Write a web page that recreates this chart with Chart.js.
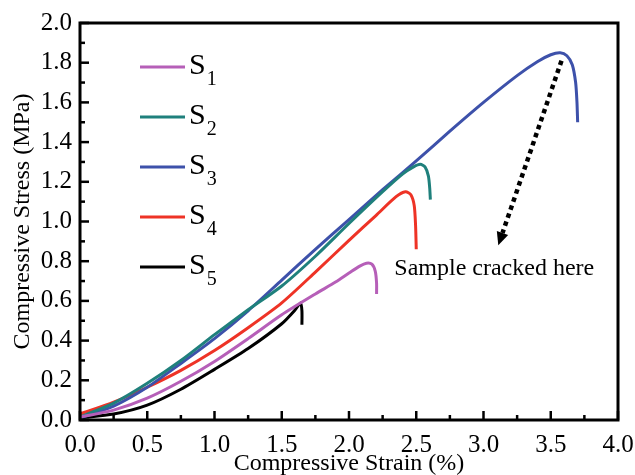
<!DOCTYPE html>
<html>
<head>
<meta charset="utf-8">
<script src="https://cdn.jsdelivr.net/npm/chart.js@4/dist/chart.umd.min.js"></script>
<style>
html,body{margin:0;padding:0;background:#fff;}
#wrap{width:635px;height:475px;}
</style>
</head>
<body>
<div id="wrap"><canvas id="c" width="635" height="475"></canvas></div>
<script>
// valeurs (déformation %, contrainte MPa)
const s1Strain = [0, 0.25, 0.5, 0.75, 1.0, 1.25, 1.5, 1.75, 1.9, 2.0, 2.08, 2.13, 2.17, 2.195, 2.205, 2.205];
const s1Stress = [0.015, 0.05, 0.11, 0.195, 0.295, 0.41, 0.53, 0.635, 0.695, 0.74, 0.775, 0.79, 0.785, 0.75, 0.69, 0.635];

const s2Strain = [0, 0.25, 0.5, 0.75, 1.0, 1.25, 1.5, 1.75, 2.0, 2.25, 2.4, 2.48, 2.53, 2.565, 2.59, 2.6, 2.605];
const s2Stress = [0.015, 0.085, 0.185, 0.30, 0.43, 0.555, 0.675, 0.825, 0.99, 1.15, 1.24, 1.275, 1.288, 1.275, 1.23, 1.17, 1.11];

const s3Strain = [0, 0.25, 0.5, 0.75, 1.0, 1.25, 1.5, 1.75, 2.0, 2.25, 2.5, 2.75, 3.0, 3.25, 3.4, 3.5, 3.57, 3.62, 3.66, 3.685, 3.695, 3.7];
const s3Stress = [0.01, 0.07, 0.165, 0.285, 0.41, 0.55, 0.705, 0.86, 1.01, 1.16, 1.305, 1.455, 1.60, 1.735, 1.805, 1.84, 1.85, 1.835, 1.79, 1.70, 1.60, 1.50];

const s4Strain = [0, 0.25, 0.5, 0.75, 1.0, 1.25, 1.5, 1.75, 2.0, 2.2, 2.35, 2.42, 2.46, 2.485, 2.495, 2.5];
const s4Stress = [0.03, 0.09, 0.165, 0.25, 0.35, 0.465, 0.59, 0.745, 0.905, 1.03, 1.125, 1.15, 1.135, 1.08, 0.98, 0.86];

const s5Strain = [0, 0.25, 0.5, 0.75, 1.0, 1.25, 1.5, 1.6, 1.64, 1.65, 1.65];
const s5Stress = [0.01, 0.03, 0.075, 0.155, 0.255, 0.36, 0.485, 0.555, 0.59, 0.55, 0.48];

const seriesNames = ['S1', 'S2', 'S3', 'S4', 'S5'];
const seriesColors = ['#b65fb8', '#1f807c', '#3d51aa', '#ee3326', '#000000'];

// flèche "Sample cracked here"
const arrowFrom = {x: 3.58, y: 1.81};
const arrowTo = {x: 3.11, y: 0.88};
const noteText = 'Sample cracked here';
const notePos = {x: 3.08, y: 0.73};

const SERIF = '"Liberation Serif", "Times New Roman", serif';

function pts(xs, ys){ return xs.map((v,i)=>({x:v, y:ys[i]})); }
const allData = [pts(s1Strain,s1Stress), pts(s2Strain,s2Stress), pts(s3Strain,s3Stress), pts(s4Strain,s4Stress), pts(s5Strain,s5Stress)];

// cadre + graduations vers l'intérieur + légende + annotation
const decor = {
    id:'decor',
    afterDraw(chart){
        const {ctx, chartArea:a, scales:{x,y}} = chart;
        ctx.save();
        ctx.strokeStyle='#000';
        ctx.lineWidth=2.5;
        for(let i=0;i<=16;i++){
            const px = x.getPixelForValue(i*0.25);
            ctx.beginPath(); ctx.moveTo(px,a.bottom); ctx.lineTo(px,a.bottom-(i%2===0?9:5)); ctx.stroke();
        }
        for(let i=0;i<=20;i++){
            const py = y.getPixelForValue(i*0.1);
            ctx.beginPath(); ctx.moveTo(a.left,py); ctx.lineTo(a.left+(i%2===0?9:5),py); ctx.stroke();
        }
        ctx.lineWidth=3;
        ctx.strokeRect(a.left, a.top, a.right-a.left, a.bottom-a.top);

        // légende
        seriesNames.forEach((n,i)=>{
            const ly = 67 + i*50;
            ctx.strokeStyle = seriesColors[i];
            ctx.lineWidth = 3;
            ctx.beginPath(); ctx.moveTo(140,ly); ctx.lineTo(185,ly); ctx.stroke();
            ctx.fillStyle='#000';
            ctx.textBaseline='alphabetic';
            ctx.textAlign='left';
            ctx.font = '30px '+SERIF;
            ctx.fillText(n[0], 189, ly+7);
            const w = ctx.measureText(n[0]).width;
            ctx.font = '20px '+SERIF;
            ctx.fillText(n.slice(1), 189+w+1, ly+18);
        });

        // flèche pointillée
        const x0 = x.getPixelForValue(arrowFrom.x), y0 = y.getPixelForValue(arrowFrom.y);
        const x1 = x.getPixelForValue(arrowTo.x), y1 = y.getPixelForValue(arrowTo.y);
        const ang = Math.atan2(y1-y0, x1-x0);
        const head = 13;
        const bx = x1 - head*Math.cos(ang), by = y1 - head*Math.sin(ang);
        ctx.strokeStyle='#000';
        ctx.lineWidth=4.5;
        ctx.setLineDash([4.5,4]);
        ctx.beginPath(); ctx.moveTo(x0,y0); ctx.lineTo(bx,by); ctx.stroke();
        ctx.setLineDash([]);
        ctx.fillStyle='#000';
        ctx.beginPath();
        ctx.moveTo(x1,y1);
        ctx.lineTo(bx + 6*Math.sin(ang), by - 6*Math.cos(ang));
        ctx.lineTo(bx - 6*Math.sin(ang), by + 6*Math.cos(ang));
        ctx.closePath(); ctx.fill();

        ctx.font = '24px '+SERIF;
        ctx.textAlign='center';
        ctx.fillText(noteText, x.getPixelForValue(notePos.x), y.getPixelForValue(notePos.y));
        ctx.restore();
    }
};

new Chart(document.getElementById('c'), {
    type:'scatter',
    data:{
        datasets: allData.map((d,i)=>({
            label: seriesNames[i],
            data: d,
            showLine: true,
            borderColor: seriesColors[i],
            backgroundColor: seriesColors[i],
            borderWidth: 3,
            pointRadius: 0,
            tension: 0.25,
            fill: false
        }))
    },
    options:{
        responsive:false,
        animation:false,
        layout:{ padding:{ top:23, right:17, left:0, bottom:0 } },
        plugins:{ legend:{ display:false }, tooltip:{ enabled:false } },
        scales:{
            x:{
                type:'linear', min:0, max:4,
                grid:{ display:false, drawTicks:false },
                border:{ display:false },
                ticks:{ stepSize:0.5, padding:10, color:'#000', font:{ family:SERIF, size:25 }, callback:v=>v.toFixed(1) },
                title:{ display:true, text:'Compressive Strain (%)', color:'#000', padding:{top:0,bottom:-3}, font:{ family:SERIF, size:24 } },
                afterFit: s=>{ s.height = 55; s.paddingLeft = 0; s.paddingRight = 0; }
            },
            y:{
                type:'linear', min:0, max:2,
                grid:{ display:false, drawTicks:false },
                border:{ display:false },
                ticks:{ stepSize:0.2, padding:8, color:'#000', font:{ family:SERIF, size:25 }, callback:v=>v.toFixed(1) },
                title:{ display:true, text:'Compressive Stress (MPa)', color:'#000', padding:{top:8,bottom:0}, font:{ family:SERIF, size:24 } },
                afterFit: s=>{ s.width = 80; s.paddingTop = 0; s.paddingBottom = 0; }
            }
        }
    },
    plugins:[decor]
});
</script>
</body>
</html>
